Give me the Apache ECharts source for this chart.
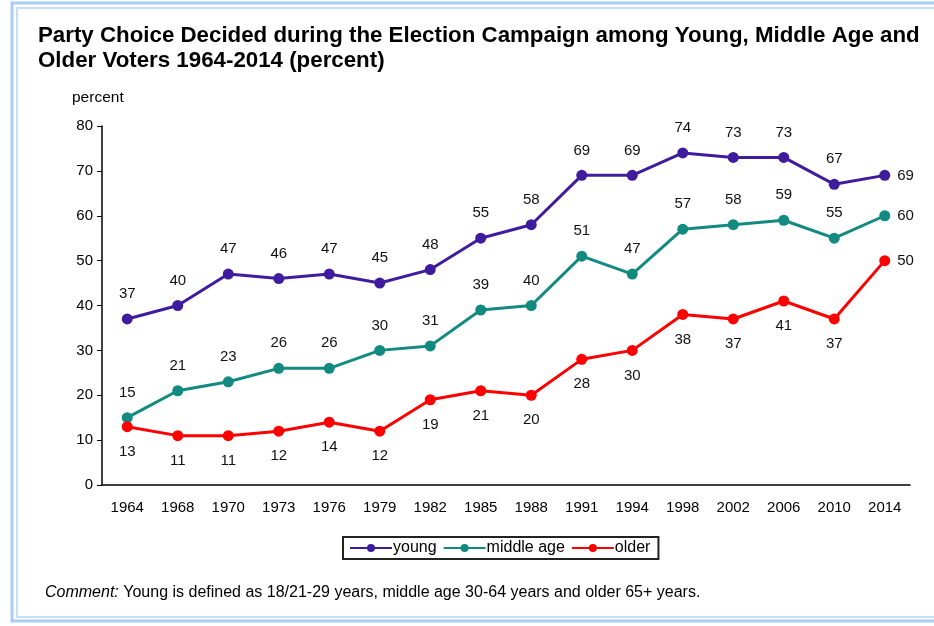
<!DOCTYPE html>
<html>
<head>
<meta charset="utf-8">
<script src="https://cdn.jsdelivr.net/npm/echarts@6/dist/echarts.min.js"></script>
<style>
  html, body { margin: 0; padding: 0; background: #fff; }
  #chart { width: 934px; height: 626px; }
</style>
</head>
<body>
<div id="chart"></div>
<script>
  // election years on the x axis
  var years = ['1964', '1968', '1970', '1973', '1976', '1979', '1982', '1985',
    '1988', '1991', '1994', '1998', '2002', '2006', '2010', '2014'];
  var young = [37, 40, 47, 46, 47, 45, 48, 55, 58, 69, 69, 74, 73, 73, 67, 69];
  var middleAge = [15, 21, 23, 26, 26, 30, 31, 39, 40, 51, 47, 57, 58, 59, 55, 60];
  var older = [13, 11, 11, 12, 14, 12, 19, 21, 20, 28, 30, 38, 37, 41, 37, 50];

  var font = '"Liberation Sans", Arial, Helvetica, sans-serif';

  // labels above or below, last one to the right of the point
  function makeData(values, pos) {
    return values.map(function (v, i) {
      if (i === values.length - 1) {
        return { value: v, label: { position: 'right', distance: 7 } };
      }
      return { value: v, label: { position: pos } };
    });
  }

  function lineSeries(name, values, color, pos) {
    return {
      name: name,
      type: 'line',
      data: makeData(values, pos),
      symbol: 'circle',
      symbolSize: 11,
      lineStyle: { width: 3, color: color },
      itemStyle: { color: color },
      label: {
        show: true,
        distance: 12,
        color: '#111',
        fontSize: 15,
        fontFamily: font
      }
    };
  }

  var chart = echarts.init(document.getElementById('chart'));
  var option = {
    animation: false,
    textStyle: { fontFamily: font },
    graphic: [
      {
        type: 'rect',
        shape: { x: 12, y: 3, width: 940, height: 618 },
        style: { fill: null, stroke: '#a7cdf6', lineWidth: 3 }
      },
      {
        type: 'rect',
        shape: { x: 17, y: 8, width: 940, height: 609 },
        style: { fill: null, stroke: '#c6e0fb', lineWidth: 2 }
      },
      {
        type: 'text',
        left: 38,
        top: 23,
        style: {
          text: 'Party Choice Decided during the Election Campaign among Young, Middle Age and\nOlder Voters 1964-2014 (percent)',
          font: 'bold 22.3px ' + font,
          fill: '#000',
          lineHeight: 25
        }
      },
      {
        type: 'text',
        left: 72,
        top: 90,
        style: { text: 'percent', font: '15.5px ' + font, fill: '#000' }
      },
      {
        type: 'text',
        left: 45,
        top: 585,
        style: {
          text: '{i|Comment:} Young is defined as 18/21-29 years, middle age 30-64 years and older 65+ years.',
          font: '16px ' + font,
          fill: '#000',
          rich: {
            i: { fontStyle: 'italic', fontSize: 16, fontFamily: font, fill: '#000' }
          }
        }
      }
    ],
    legend: {
      data: ['young', 'middle age', 'older'],
      left: 343,
      top: 537,
      itemWidth: 42,
      itemHeight: 10,
      itemGap: 6,
      padding: [3, 8, 3, 6],
      borderColor: '#222',
      borderWidth: 2,
      textStyle: { color: '#000', fontSize: 16, fontFamily: font, padding: [0, 0, 0, -4] }
    },
    grid: { left: 102, right: 24, top: 126, bottom: 141, containLabel: false },
    xAxis: {
      type: 'category',
      data: years,
      boundaryGap: true,
      axisLine: { lineStyle: { color: '#000', width: 1.5 } },
      axisTick: { show: false },
      axisLabel: { color: '#000', fontSize: 15, margin: 15, fontFamily: font }
    },
    yAxis: {
      type: 'value',
      min: 0,
      max: 80,
      interval: 10,
      splitLine: { show: false },
      axisLine: { show: true, lineStyle: { color: '#000', width: 1.5 } },
      axisTick: { show: true, length: 5, lineStyle: { color: '#000' } },
      axisLabel: { color: '#000', fontSize: 15, margin: 9, fontFamily: font }
    },
    series: [
      lineSeries('young', young, '#3f1c9e', 'top'),
      lineSeries('middle age', middleAge, '#128a80', 'top'),
      lineSeries('older', older, '#ff0000', 'bottom')
    ]
  };
  chart.setOption(option);
</script>
</body>
</html>
